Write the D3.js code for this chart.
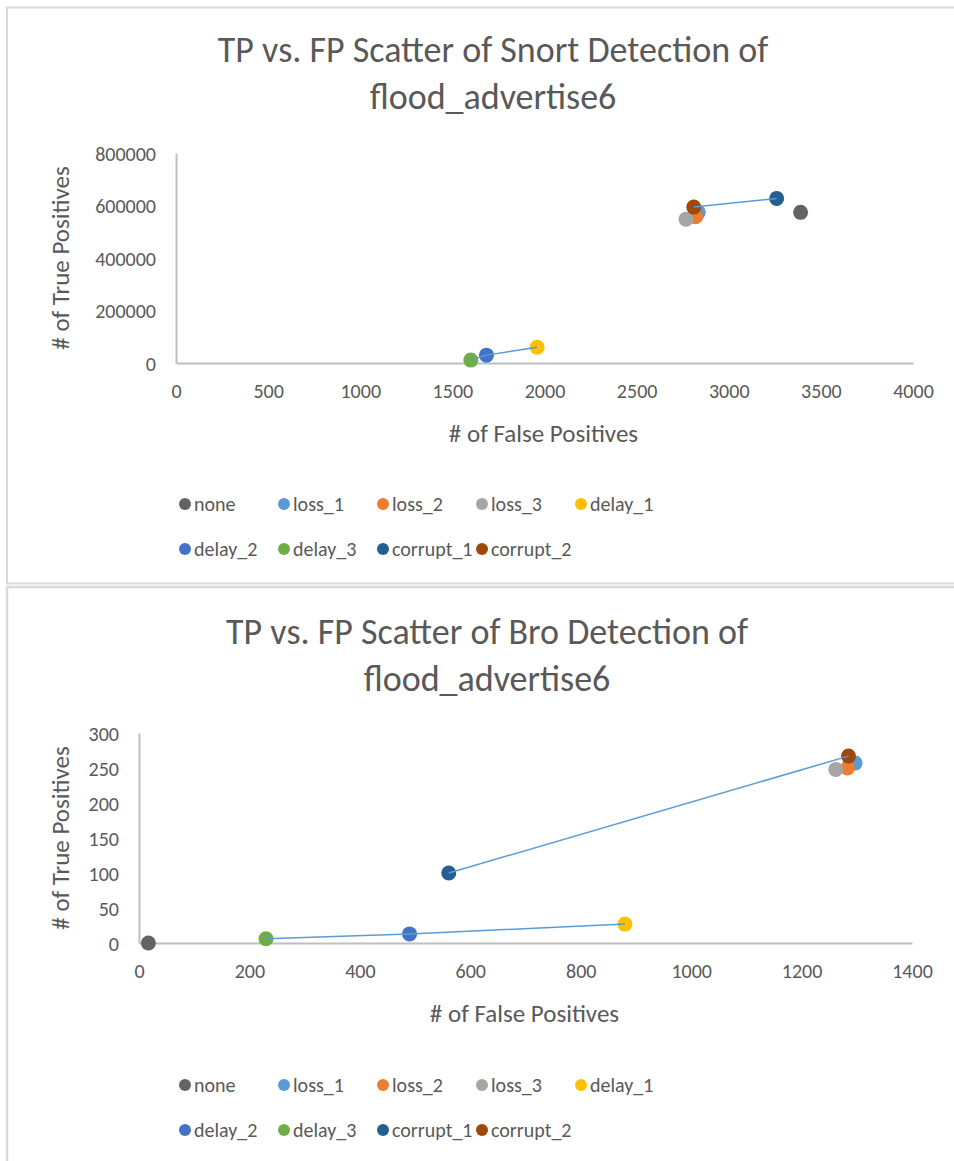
<!DOCTYPE html>
<html>
<head>
<meta charset="utf-8">
<script src="https://cdn.jsdelivr.net/npm/d3@7"></script>
<style>
  body { margin: 0; background: #fff; }
  svg text { font-family: Carlito, Lato, "Open Sans", sans-serif; fill: #595959; }
</style>
</head>
<body>
<svg id="page" width="954" height="1161"></svg>
<script>
// series names + colours (Office palette)
var seriesNames = ["none", "loss_1", "loss_2", "loss_3", "delay_1", "delay_2", "delay_3", "corrupt_1", "corrupt_2"];
var seriesColors = ["#636363", "#5B9BD5", "#ED7D31", "#A5A5A5", "#FFC000", "#4472C4", "#70AD47", "#255E91", "#9E480E"];

// Snort chart values (same order as seriesNames)
var snortFP = [3390, 2835, 2820, 2768, 1960, 1685, 1600, 3260, 2810];
var snortTP = [574000, 574000, 557000, 548000, 60000, 30000, 11000, 627000, 594000];
var snortXTicks = [0, 500, 1000, 1500, 2000, 2500, 3000, 3500, 4000];
var snortYTicks = [0, 200000, 400000, 600000, 800000];

// Bro chart values
var broFP = [17, 1297, 1283, 1262, 880, 490, 230, 561, 1285];
var broTP = [0, 257, 250, 248, 27, 13, 6, 100, 267];
var broXTicks = [0, 200, 400, 600, 800, 1000, 1200, 1400];
var broYTicks = [0, 50, 100, 150, 200, 250, 300];

// thin connector lines between series
var linkGroups = [["delay_3", "delay_2", "delay_1"], ["corrupt_2", "corrupt_1"]];
var broLinkGroups = [["delay_3", "delay_2", "delay_1"], ["corrupt_1", "corrupt_2"]];

var svg = d3.select("#page");

// frames around the two charts
svg.append("rect").attr("x", 7).attr("y", 7.5).attr("width", 960).attr("height", 576)
  .attr("fill", "none").attr("stroke", "#d9d9d9").attr("stroke-width", 2);
svg.append("rect").attr("x", 7).attr("y", 587).attr("width", 960).attr("height", 600)
  .attr("fill", "none").attr("stroke", "#d9d9d9").attr("stroke-width", 2.5);

function drawChart(cfg) {
  var g = svg.append("g");

  var x = d3.scaleLinear().domain([0, d3.max(cfg.xTicks)]).range([cfg.left, cfg.right]);
  var y = d3.scaleLinear().domain([0, d3.max(cfg.yTicks)]).range([cfg.bottom, cfg.top]);

  // title
  g.selectAll("text.title").data(cfg.title).enter().append("text")
    .attr("class", "title")
    .attr("x", cfg.titleX)
    .attr("y", function (d, i) { return cfg.titleY + i * 47; })
    .attr("text-anchor", "middle")
    .style("font-size", "36px")
    .style("font-weight", 300)
    .text(function (d) { return d; });

  // axes
  var xAxis = g.append("g").attr("transform", "translate(0," + cfg.bottom + ")")
    .call(d3.axisBottom(x).tickValues(cfg.xTicks).tickSize(0).tickPadding(21).tickFormat(d3.format("d")));
  var yAxis = g.append("g").attr("transform", "translate(" + cfg.left + ",0)")
    .call(d3.axisLeft(y).tickValues(cfg.yTicks).tickSize(0).tickPadding(20).tickFormat(d3.format("d")));
  [xAxis, yAxis].forEach(function (a) {
    a.select(".domain").attr("stroke", "#bfbfbf").attr("stroke-width", 2);
    a.selectAll("text").style("font-size", "20px").attr("fill", "#595959");
  });
  yAxis.selectAll("text").attr("dy", "0.35em");

  // axis titles
  g.append("text").attr("x", (cfg.left + cfg.right) / 2 - 1).attr("y", cfg.bottom + 79)
    .attr("text-anchor", "middle").style("font-size", "25px").text("# of False Positives");
  g.append("text")
    .attr("transform", "translate(" + 69 + "," + ((cfg.top + cfg.bottom) / 2) + ") rotate(-90)")
    .attr("text-anchor", "middle").style("font-size", "25px").text("# of True Positives");

  var pts = seriesNames.map(function (n, i) {
    return { name: n, fp: cfg.fp[i], tp: cfg.tp[i], color: seriesColors[i] };
  });
  var byName = {};
  pts.forEach(function (p) { byName[p.name] = p; });

  var line = d3.line().x(function (d) { return x(d.fp); }).y(function (d) { return y(d.tp); });

  // markers
  g.selectAll("circle.pt").data(pts).enter().append("circle")
    .attr("class", "pt")
    .attr("cx", function (d) { return x(d.fp); })
    .attr("cy", function (d) { return y(d.tp); })
    .attr("r", 7.5)
    .attr("fill", function (d) { return d.color; });

  cfg.links.forEach(function (grp) {
    g.append("path")
      .datum(grp.map(function (n) { return byName[n]; }))
      .attr("d", line)
      .attr("fill", "none")
      .attr("stroke", "#5B9BD5")
      .attr("stroke-width", 1.5);
  });

  // legend, two rows
  var legend = g.selectAll("g.leg").data(pts).enter().append("g")
    .attr("class", "leg")
    .attr("transform", function (d, i) {
      return "translate(" + (185 + (i % 5) * 99) + "," + (cfg.legendY + Math.floor(i / 5) * 45) + ")";
    });
  legend.append("circle").attr("r", 6).attr("fill", function (d) { return d.color; });
  legend.append("text").attr("x", 9).attr("dy", "0.35em")
    .style("font-size", "20px").text(function (d) { return d.name; });
}

drawChart({
  title: ["TP vs. FP Scatter of Snort Detection of", "flood_advertise6"],
  titleX: 493, titleY: 62,
  left: 176, right: 913, top: 153, bottom: 363,
  xTicks: snortXTicks, yTicks: snortYTicks,
  fp: snortFP, tp: snortTP,
  links: linkGroups,
  legendY: 504
});

drawChart({
  title: ["TP vs. FP Scatter of Bro Detection of", "flood_advertise6"],
  titleX: 487, titleY: 644,
  left: 139, right: 912, top: 733, bottom: 943,
  xTicks: broXTicks, yTicks: broYTicks,
  fp: broFP, tp: broTP,
  links: broLinkGroups,
  legendY: 1085
});
</script>
</body>
</html>
